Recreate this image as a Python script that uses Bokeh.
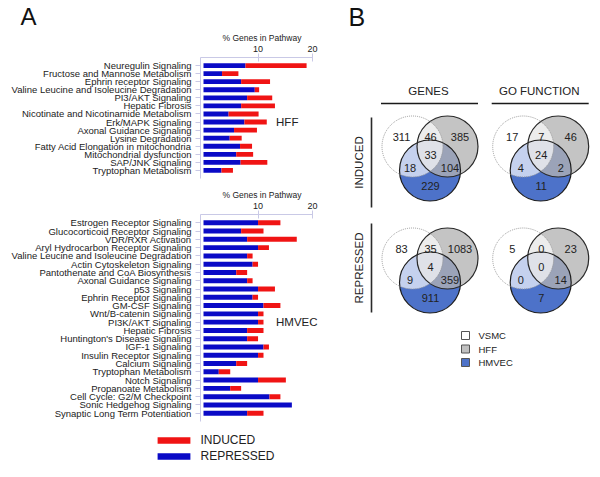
import numpy as np
from bokeh.plotting import figure
from bokeh.models import (ColumnDataSource, FactorRange, Range1d, FixedTicker,
                          Legend, LegendItem)
from bokeh.layouts import row, column
from bokeh.embed import file_html
from bokeh.resources import INLINE
from bokeh.core.properties import value

FONT = "Liberation Sans"
BLUE = "#0a0ac6"
RED = "#f01414"
AXIS = "#c9c9e6"
TXT = "#222222"

# ---------------- Panel A data ----------------
hff_pathways = [
    "Neuregulin Signaling", "Fructose and Mannose Metabolism", "Ephrin receptor Signaling",
    "Valine Leucine and Isoleucine Degradation", "PI3/AKT Signaling", "Hepatic Fibrosis",
    "Nicotinate and Nicotinamide Metabolism", "Erk/MAPK Signaling", "Axonal Guidance Signaling",
    "Lysine Degradation", "Fatty Acid Elongation in mitochondria", "Mitochondrial dysfunction",
    "SAP/JNK Signaling", "Tryptophan Metabolism",
]
hff_repressed = [7.7, 3.4, 6.9, 9.4, 8.0, 6.9, 4.6, 7.5, 5.6, 4.8, 6.7, 6.0, 6.8, 3.3]
hff_induced = [11.2, 3.0, 5.3, 0.8, 4.6, 6.2, 5.5, 4.1, 4.2, 2.2, 2.2, 3.1, 4.9, 2.1]

hmvec_pathways = [
    "Estrogen Receptor Signaling", "Glucocorticoid Receptor Signaling", "VDR/RXR Activation",
    "Aryl Hydrocarbon Receptor Signaling", "Valine Leucine and Isoleucine Degradation",
    "Actin Cytoskeleton Signaling", "Pantothenate and CoA Biosynthesis", "Axonal Guidance Signaling",
    "p53 Signaling", "Ephrin Receptor Signaling", "GM-CSF Signaling", "Wnt/B-catenin Signaling",
    "PI3K/AKT Signaling", "Hepatic Fibrosis", "Huntington's Disease Signaling", "IGF-1 Signaling",
    "Insulin Receptor Signaling", "Calcium Signaling", "Tryptophan Metabolism", "Notch Signaling",
    "Propanoate Metabolism", "Cell Cycle: G2/M Checkpoint", "Sonic Hedgehog Signaling",
    "Synaptic Long Term Potentiation",
]
hmvec_repressed = [10.0, 6.9, 8.0, 10.0, 8.0, 9.0, 6.0, 8.0, 10.0, 9.0, 11.0, 10.0,
                   10.0, 8.0, 8.0, 11.0, 10.0, 6.0, 2.8, 10.0, 4.9, 12.1, 16.2, 8.0]
hmvec_induced = [4.1, 4.1, 9.1, 2.0, 1.0, 1.0, 2.0, 1.0, 3.1, 1.0, 3.1, 1.0,
                 1.0, 3.0, 2.0, 1.0, 1.0, 2.0, 2.1, 5.1, 2.0, 2.0, 0.0, 3.0]

x_ticks = [10, 20]
axis_title = "% Genes in Pathway"
series_labels = ["INDUCED", "REPRESSED"]

# ---------------- Panel B data ----------------
# region order: VSMC only, VSMC&HFF, HFF only, all three, VSMC&HMVEC, HFF&HMVEC, HMVEC only
genes_induced = [311, 46, 385, 33, 18, 104, 229]
go_induced = [17, 7, 46, 24, 4, 2, 11]
genes_repressed = [83, 35, 1083, 4, 9, 359, 911]
go_repressed = [5, 0, 23, 0, 0, 14, 7]
col_titles = ["GENES", "GO FUNCTION"]
row_titles = ["INDUCED", "REPRESSED"]
legend_names = ["VSMC", "HFF", "HMVEC"]
legend_colors = ["#ffffff", "#c0c0c0", "#4d72c9"]


def no_align(p):
    if "frame_align" in p.properties():
        p.frame_align = False


def plain(width, height):
    p = figure(width=width, height=height, output_backend="svg", toolbar_location=None,
               x_range=Range1d(0, width), y_range=Range1d(height, 0),
               min_border=0, min_border_left=0, min_border_right=0,
               min_border_top=0, min_border_bottom=0)
    p.axis.visible = False
    p.grid.visible = False
    p.outline_line_color = None
    p.background_fill_color = None
    p.border_fill_color = None
    no_align(p)
    return p


def bar_panel(names, rep, ind, height, top, bottom, tag, tag_row, title=None):
    src = ColumnDataSource(dict(cat=names, rep=rep, ind=ind))
    p = figure(width=330, height=height, output_backend="svg", toolbar_location=None,
               x_range=Range1d(-0.55, 22),
               y_range=FactorRange(factors=names[::-1], range_padding=0.5,
                                   range_padding_units="absolute"),
               x_axis_location="above", min_border_left=200, min_border_right=7,
               min_border_top=top, min_border_bottom=bottom)
    p.outline_line_color = None
    p.grid.visible = False
    p.background_fill_color = None
    p.border_fill_color = None
    if title:
        p.title.text = title
        p.title.text_font = FONT
        p.title.text_font_size = "24px"
        p.title.text_font_style = "normal"
        p.title.text_color = "#111111"
        p.title.text_line_height = 0.85
        p.title.align = "left"
        p.title.offset = -180
        p.title.standoff = 0
    p.hbar_stack(["rep", "ind"], y="cat", height=0.6, source=src,
                 color=[BLUE, RED], line_color=None)
    xa = p.xaxis[0]
    xa.ticker = FixedTicker(ticks=x_ticks)
    xa.bounds = (-0.55, 20)
    xa.minor_tick_line_color = None
    xa.axis_line_color = AXIS
    xa.major_tick_line_color = AXIS
    xa.major_tick_out = 4
    xa.major_tick_in = 4
    xa.major_label_standoff = 2
    xa.major_label_text_font = FONT
    xa.major_label_text_font_size = "9px"
    xa.major_label_text_color = TXT
    xa.axis_label = axis_title
    xa.axis_label_standoff = 0
    xa.axis_label_text_font = FONT
    xa.axis_label_text_font_size = "8.5px"
    xa.axis_label_text_font_style = "normal"
    xa.axis_label_text_color = TXT
    ya = p.yaxis[0]
    ya.axis_line_color = AXIS
    ya.major_tick_line_color = AXIS
    ya.major_tick_out = 5
    ya.major_tick_in = 0
    ya.major_label_standoff = 4
    ya.major_label_text_font = FONT
    ya.major_label_text_font_size = "9.5px"
    ya.major_label_text_color = TXT
    p.text(x=[13.3], y=[tag_row], text=[tag], text_font=value(FONT),
           text_font_size="11.5px", text_baseline="middle", text_color=TXT)
    no_align(p)
    return p


pA1 = bar_panel(hff_pathways, hff_repressed, hff_induced, 182, 55, 4,
                "HFF", "Erk/MAPK Signaling", title="A")
pA2 = bar_panel(hmvec_pathways, hmvec_repressed, hmvec_induced, 243, 32, 4,
                "HMVEC", "PI3K/AKT Signaling")

# footer with the bar legend (legend keys taken from hidden copies of the HMVEC bars)
footA = plain(330, 52)
idx = list(range(len(hmvec_pathways)))
r_ind = footA.hbar(y=idx, right=hmvec_induced, height=0.6, color=RED, line_color=None,
                   visible=False)
r_rep = footA.hbar(y=idx, right=hmvec_repressed, height=0.6, color=BLUE, line_color=None,
                   visible=False)
leg = Legend(items=[LegendItem(label=series_labels[0], renderers=[r_ind]),
                    LegendItem(label=series_labels[1], renderers=[r_rep])],
             location=(152.5, 14), orientation="vertical", glyph_width=41, glyph_height=8,
             label_height=14, label_standoff=7, spacing=2, padding=0, margin=0,
             border_line_alpha=0, background_fill_alpha=0, inactive_fill_alpha=0,
             label_text_font=FONT, label_text_font_size="12px", label_text_color=TXT)
footA.add_layout(leg)

# ---------------- Panel B: Venn diagrams ----------------
pB = plain(270, 477)

col_cx = np.array([99.5, 210.2])
row_cy = np.array([146.0, 258.0])
R = 30.5
# circle centre offsets: VSMC, HFF, HMVEC
circ_dx = np.array([-17.5, 17.5, 0.0])
circ_dy = np.array([0.0, 0.0, 24.0])
# label offsets per region
reg_dx = np.array([-28.5, 0.5, 30.0, 0.5, -20.0, 20.0, 0.5])
reg_dy = np.array([-9.5, -9.5, -9.5, 8.5, 21.0, 21.0, 39.5])

panels = [(0, 0, genes_induced), (1, 0, go_induced),
          (0, 1, genes_repressed), (1, 1, go_repressed)]

cxs = np.array([col_cx[ci] for ci, ri, _ in panels])
cys = np.array([row_cy[ri] for ci, ri, _ in panels])

# fills: blue, gray (translucent), white (translucent)
pB.circle(x=cxs + circ_dx[2], y=cys + circ_dy[2], radius=R,
          fill_color="#4d72c9", line_color=None)
pB.circle(x=cxs + circ_dx[1], y=cys + circ_dy[1], radius=R,
          fill_color="#b2b2b2", fill_alpha=0.77, line_color=None)
pB.circle(x=cxs + circ_dx[0], y=cys + circ_dy[0], radius=R,
          fill_color="#ffffff", fill_alpha=0.68, line_color=None)
# outlines
pB.circle(x=cxs + circ_dx[2], y=cys + circ_dy[2], radius=R,
          fill_color=None, line_color="#1e1e1e", line_width=1.2)
pB.circle(x=cxs + circ_dx[1], y=cys + circ_dy[1], radius=R,
          fill_color=None, line_color="#2a2a2a", line_width=1.2)
pB.circle(x=cxs + circ_dx[0], y=cys + circ_dy[0], radius=R,
          fill_color=None, line_color="#9a9a9a", line_width=1, line_dash="1 1")

lx, ly, lt = [], [], []
for ci, ri, vals in panels:
    for k, v in enumerate(vals):
        lx.append(col_cx[ci] + reg_dx[k])
        ly.append(row_cy[ri] + reg_dy[k])
        lt.append(str(v))
pB.text(x=lx, y=ly, text=lt, text_font=value(FONT), text_font_size="11px",
        text_align="center", text_baseline="middle", text_color=TXT)

# column titles and underlines
pB.text(x=col_cx - 1.5, y=[90, 90], text=col_titles, text_font=value(FONT),
        text_font_size="11.5px", text_align="center", text_baseline="middle",
        text_color=TXT)
pB.segment(x0=col_cx - 49, y0=[103, 103], x1=col_cx + 48, y1=[103, 103],
           line_color="#1a1a1a", line_width=1.6)

# row titles and vertical bars
row_top = np.array([117, 223])
row_bot = np.array([207, 312])
pB.segment(x0=[41, 41], y0=row_top, x1=[41, 41], y1=row_bot,
           line_color="#2a2a2a", line_width=1.6)
pB.text(x=[28, 28], y=(row_top + row_bot) / 2, text=row_titles, angle=np.pi / 2,
        text_font=value(FONT), text_font_size="11.5px", text_align="center",
        text_baseline="middle", text_color=TXT)

# legend
leg_y = np.array([335, 348.5, 362])
pB.scatter(x=[135, 135, 135], y=leg_y, marker="square", size=8,
           fill_color=legend_colors, line_color="#555555", line_width=1)
pB.text(x=[148, 148, 148], y=leg_y, text=legend_names, text_font=value(FONT),
        text_font_size="9.5px", text_baseline="middle", text_color=TXT)

pB.text(x=[18], y=[16], text=["B"], text_font=value(FONT), text_font_size="25px",
        text_baseline="middle", text_color="#111111")

layout = row(column(pA1, pA2, footA, spacing=0), pB, spacing=0)
open("out.html", "w").write(file_html(layout, INLINE))
